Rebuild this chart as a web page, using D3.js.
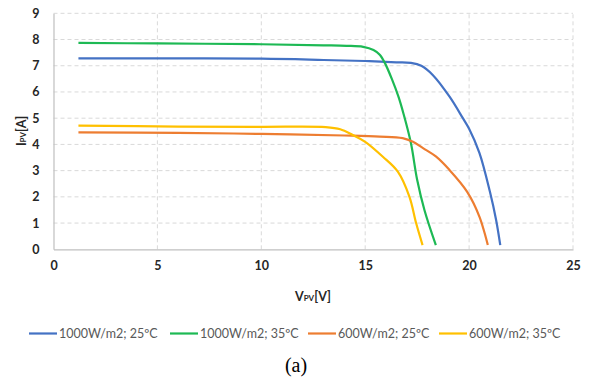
<!DOCTYPE html>
<html><head><meta charset="utf-8">
<script src="https://cdn.jsdelivr.net/npm/d3@7"></script>
<style>body{margin:0;background:#fff}svg{display:block}</style>
</head><body><svg id="c" width="598" height="380"></svg>
<script>
const seriesNames = ["1000W/m2; 25ºC","1000W/m2; 35ºC","600W/m2; 25ºC","600W/m2; 35ºC"];
const seriesColors = ["#4472C4","#1DB954","#ED7D31","#FFC000"];
const v1 = [1.2, 5, 10, 13, 15, 16.5, 17.2, 17.7, 18.25, 19.06, 19.7, 20.0, 20.5, 21.0, 21.3, 21.5];
const i1 = [7.28, 7.28, 7.27, 7.22, 7.18, 7.13, 7.11, 7.0, 6.65, 5.82, 5.0, 4.6, 3.67, 2.2, 1.12, 0.16];
const v2 = [1.2, 5, 10, 13, 14.1, 14.9, 15.4, 15.7, 15.95, 16.3, 16.6, 16.85, 17.2, 17.5, 17.85, 18.4];
const i2 = [7.87, 7.85, 7.82, 7.78, 7.76, 7.72, 7.6, 7.42, 7.1, 6.46, 5.82, 5.15, 4.05, 2.65, 1.5, 0.16];
const v3 = [1.2, 6, 10, 14, 15.7, 16.8, 17.3, 17.8, 18.4, 19.05, 19.9, 20.5, 20.9];
const i3 = [4.46, 4.44, 4.4, 4.34, 4.3, 4.24, 4.1, 3.85, 3.54, 3.03, 2.2, 1.24, 0.16];
const v4 = [1.2, 6, 10, 13.1, 13.8, 14.4, 15, 15.85, 16.57, 17.13, 17.45, 17.76];
const i4 = [4.72, 4.68, 4.67, 4.66, 4.58, 4.36, 4.1, 3.53, 2.96, 2.0, 1.0, 0.16];
const xTicks = [0,5,10,15,20,25];
const yTicks = [0,1,2,3,4,5,6,7,8,9];
const series = [[v1,i1],[v2,i2],[v3,i3],[v4,i4]];

const svg = d3.select("#c");
const x = d3.scaleLinear().domain([0,25]).range([53.5,573]);
const y = d3.scaleLinear().domain([0,9]).range([249.3,13.3]);
const tickFont = "Lato, 'Open Sans', sans-serif";

// grid
svg.append("g").selectAll("line").data(yTicks.slice(1)).join("line")
  .attr("x1",x(0)).attr("x2",x(25)).attr("y1",d=>y(d)).attr("y2",d=>y(d))
  .attr("stroke","#d9d9d9").attr("stroke-dasharray","4,3").attr("stroke-width",1);
svg.append("g").selectAll("line").data(xTicks.slice(1)).join("line")
  .attr("x1",d=>x(d)).attr("x2",d=>x(d)).attr("y1",y(0)).attr("y2",y(9))
  .attr("stroke","#d9d9d9").attr("stroke-dasharray","4,3").attr("stroke-width",1);

// axes
const xAxis = svg.append("g").attr("transform",`translate(0,${y(0)})`)
  .call(d3.axisBottom(x).tickValues(xTicks).tickSize(0).tickPadding(12));
const yAxis = svg.append("g").attr("transform",`translate(${x(0)},0)`)
  .call(d3.axisLeft(y).tickValues(yTicks).tickSize(0).tickPadding(14));
[xAxis,yAxis].forEach(a=>{
  a.select(".domain").attr("stroke","#bfbfbf").attr("stroke-width",1.2);
  a.selectAll("text").attr("font-family",tickFont).attr("font-weight","bold")
   .attr("font-size",12.5).attr("fill","#262626");
});

// lines
const line = d3.line().x(d=>x(d[0])).y(d=>y(d[1])).curve(d3.curveCatmullRom.alpha(0.5));
series.forEach((s,k)=>{
  const pts = s[0].map((v,j)=>[v,s[1][j]]);
  svg.append("path").datum(pts).attr("d",line).attr("fill","none")
    .attr("stroke",seriesColors[k]).attr("stroke-width",2.2).attr("stroke-linejoin","round");
});

// axis titles
const xt = svg.append("text").attr("x",313).attr("y",301).attr("text-anchor","middle")
  .attr("font-family",tickFont).attr("font-weight","bold").attr("font-size",12.5).attr("fill","#262626");
xt.append("tspan").text("V");
xt.append("tspan").attr("font-size",8).text("PV");
xt.append("tspan").text("[V]");
const yt = svg.append("text").attr("transform","translate(26,131) rotate(-90)").attr("text-anchor","middle")
  .attr("font-family",tickFont).attr("font-weight","bold").attr("font-size",12.5).attr("fill","#262626");
yt.append("tspan").text("I");
yt.append("tspan").attr("font-size",8).text("PV");
yt.append("tspan").text("[A]");

// legend
const legX = [29,170,308,439];
const lg = svg.append("g");
seriesNames.forEach((n,k)=>{
  lg.append("line").attr("x1",legX[k]).attr("x2",legX[k]+28).attr("y1",333.5).attr("y2",333.5)
    .attr("stroke",seriesColors[k]).attr("stroke-width",2.2);
  lg.append("text").attr("x",legX[k]+30).attr("y",338).attr("font-family",tickFont)
    .attr("font-size",12.5).attr("fill","#595959").text(n);
});

svg.append("text").attr("x",296).attr("y",372).attr("text-anchor","middle")
  .attr("font-family","'Liberation Serif','DejaVu Serif',serif").attr("font-size",20).attr("fill","#000").text("(a)");
</script></body></html>
